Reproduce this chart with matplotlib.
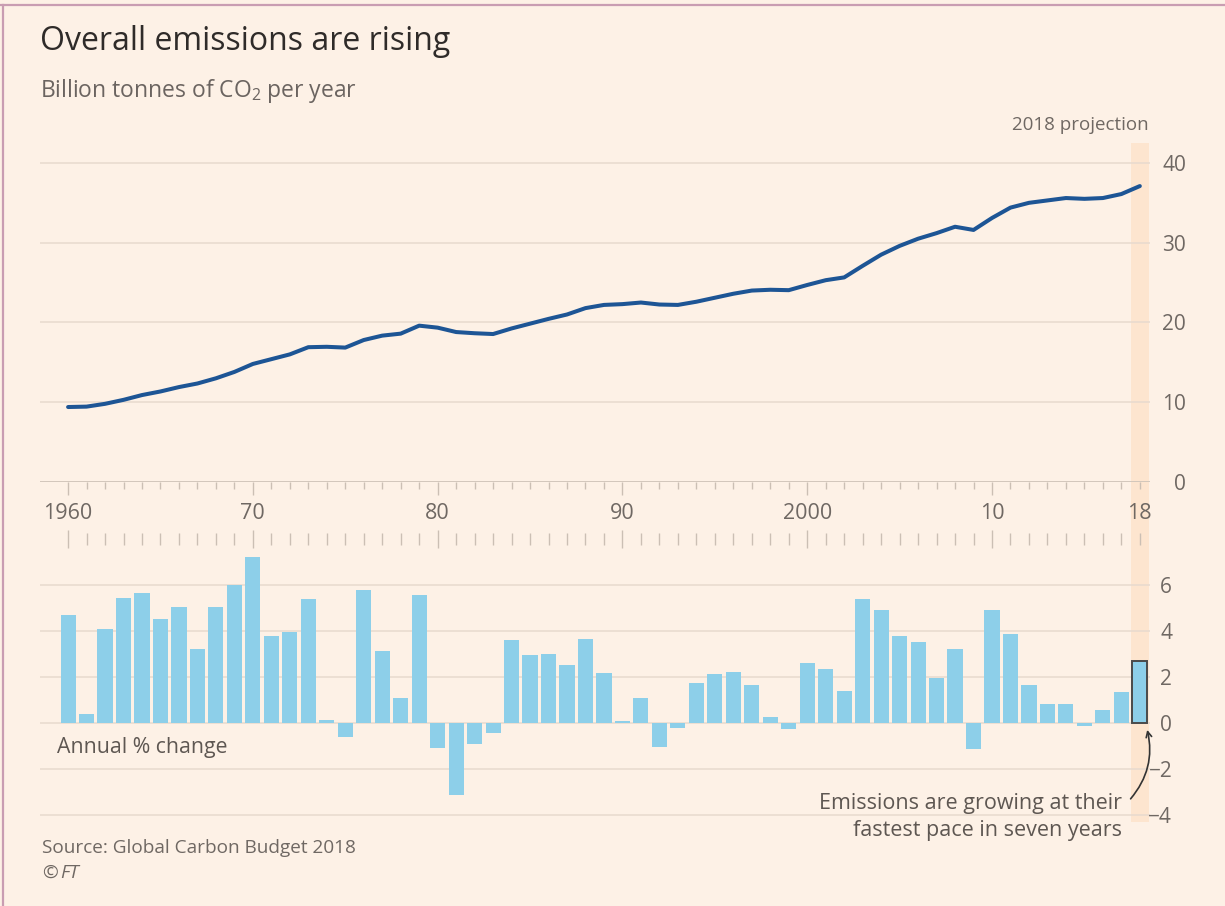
import numpy as np
import matplotlib
matplotlib.use('Agg')
import matplotlib.pyplot as plt
from matplotlib.patches import Rectangle
from matplotlib.lines import Line2D
from matplotlib.transforms import blended_transform_factory

plt.rcParams['font.family'] = ['Open Sans', 'DejaVu Sans']
plt.rcParams['mathtext.fontset'] = 'custom'
plt.rcParams['mathtext.rm'] = 'Open Sans'

# data (Global Carbon Budget 2018)
years = list(range(1960, 2019))
emissions = [9.4, 9.45, 9.8, 10.3, 10.9, 11.35, 11.9, 12.35, 13.0, 13.8,
             14.8, 15.4, 16.0, 16.9, 16.95, 16.85, 17.8, 18.35, 18.6, 19.6,
             19.35, 18.8, 18.65, 18.55, 19.25, 19.85, 20.45, 21.0, 21.8, 22.2,
             22.3, 22.5, 22.25, 22.2, 22.6, 23.1, 23.6, 24.0, 24.1, 24.05,
             24.7, 25.3, 25.65, 27.1, 28.5, 29.6, 30.5, 31.2, 32.0, 31.6,
             33.1, 34.4, 35.0, 35.3, 35.6, 35.5, 35.6, 36.1, 37.1]
annual_change = [4.68, 0.41, 4.07, 5.45, 5.67, 4.5, 5.03, 3.2, 5.06, 5.99,
                 7.22, 3.78, 3.97, 5.41, 0.15, -0.61, 5.78, 3.12, 1.09, 5.57,
                 -1.08, -3.12, -0.9, -0.44, 3.6, 2.97, 3.02, 2.53, 3.66, 2.18,
                 0.07, 1.09, -1.05, -0.22, 1.72, 2.11, 2.21, 1.66, 0.26, -0.26,
                 2.59, 2.35, 1.38, 5.38, 4.9, 3.78, 3.52, 1.96, 3.2, -1.13,
                 4.9, 3.88, 1.63, 0.83, 0.83, -0.15, 0.55, 1.34, 2.69]
tick_years = [1960, 1970, 1980, 1990, 2000, 2010, 2018]
tick_names = ['1960', '70', '80', '90', '2000', '10', '18']
top_yticks = [0, 10, 20, 30, 40]
bottom_yticks = [-4, -2, 0, 2, 4, 6]

BG = '#fdf1e6'
GRID = '#e8dace'
TXT = '#6f6863'
LINE = '#1d5595'
BAR = '#8dcfe9'

W, H = 1225, 906
fig = plt.figure(figsize=(W / 100, H / 100), dpi=100, facecolor=BG)


def px_box(left, top, right, bottom):
    return [left / W, 1 - bottom / H, (right - left) / W, (bottom - top) / H]


ax1 = fig.add_axes(px_box(40, 143, 1150, 482))
ax2 = fig.add_axes(px_box(40, 539, 1150, 817))
xlim = (1958.48, 2018.55)

for ax in (ax1, ax2):
    ax.set_facecolor('none')
    ax.set_xlim(*xlim)
    for s in ax.spines.values():
        s.set_visible(False)
    ax.yaxis.tick_right()
    ax.tick_params(axis='y', length=0, labelsize=15, labelcolor=TXT)
    ax.grid(axis='y', color=GRID, linewidth=1.1)
    ax.set_axisbelow(True)

# projection band across both panels, behind the axes
trans = blended_transform_factory(ax1.transData, fig.transFigure)
fig.patches.append(Rectangle((2017.5, 1 - 822 / H), 1.0, (822 - 143) / H, transform=trans,
                             facecolor='#fde5cf', edgecolor='none', zorder=-5))

# top panel: emissions line
ax1.plot(years, emissions, color=LINE, linewidth=2.9, solid_capstyle='round', zorder=3)
ax1.set_ylim(0, 42.5)
ax1.set_yticks(top_yticks)
for lab in ax1.get_yticklabels():
    lab.set_horizontalalignment('right')
ax1.tick_params(axis='y', pad=26)
ax1.axhline(0, color='#cfc3b8', linewidth=1.2, zorder=2)
ax1.set_xticks(tick_years, tick_names)
ax1.set_xticks(years, minor=True)
ax1.tick_params(axis='x', which='major', length=9, width=1, color='#cbbfb4',
                labelsize=15.5, labelcolor=TXT, pad=6)
ax1.tick_params(axis='x', which='minor', length=5, width=1, color='#cbbfb4')
ax1.xaxis.get_major_ticks()[-1].tick1line.set_markersize(5)
ax1.annotate('2018 projection', xy=(2018.45, 1.053), xycoords=('data', 'axes fraction'),
             ha='right', va='center', fontsize=13.5, color=TXT)

# bottom panel: annual change bars
ax2.bar(years, annual_change, width=0.82, color=BAR, zorder=3)
ax2.bar(years[-1:], annual_change[-1:], width=0.82, color=BAR, edgecolor='#4a4a4a',
        linewidth=1.4, zorder=4)
ax2.set_ylim(-4.09, 8.0)
ax2.set_yticks(bottom_yticks)
for lab in ax2.get_yticklabels():
    lab.set_horizontalalignment('right')
ax2.tick_params(axis='y', pad=16)
ax2.xaxis.tick_top()
ax2.set_xticks([t for t in tick_years if t != 2018], [])
ax2.set_xticks(years, minor=True)
ax2.tick_params(axis='x', which='major', direction='inout', length=13, width=1, color='#cbbfb4')
ax2.tick_params(axis='x', which='minor', direction='inout', length=8, width=1, color='#cbbfb4')
ax2.text(1959.4, -1.05, 'Annual % change', ha='left', va='center', fontsize=15.3, color='#5e5752')
ax2.text(2017.05, -3.05, 'Emissions are growing at their\nfastest pace in seven years',
         ha='right', va='top', fontsize=15.5, color='#5e5752', linespacing=1.35)
ax2.annotate('', xy=(2018.4, -0.3), xytext=(2017.5, -3.3),
             arrowprops=dict(arrowstyle='->', color='#333333', linewidth=1.2,
                             connectionstyle='arc3,rad=0.25',
                             shrinkA=0, shrinkB=0),
             annotation_clip=False)

# titles and footer
fig.text(40 / W, 1 - 41 / H, 'Overall emissions are rising', ha='left', va='center',
         fontsize=23, color='#2f2b29')
fig.text(40 / W, 1 - 91 / H, 'Billion tonnes of CO$_2$ per year', ha='left', va='center',
         fontsize=16.5, color='#6b6460')
fig.text(42 / W, 1 - 848 / H, 'Source: Global Carbon Budget 2018', ha='left', va='center',
         fontsize=13.7, color=TXT)
fig.text(42 / W, 1 - 873 / H, '©', ha='left', va='center', fontsize=13.7, color=TXT)
fig.text(60 / W, 1 - 873 / H, 'FT', ha='left', va='center', fontsize=13.7, color=TXT,
         style='italic')

# thin frame on the top and left edges
fig.lines.append(Line2D([0, 1], [1 - 5 / H, 1 - 5 / H], transform=fig.transFigure,
                        color='#c99db2', linewidth=1.6))
fig.lines.append(Line2D([3 / W, 3 / W], [0, 1 - 5 / H], transform=fig.transFigure,
                        color='#c99db2', linewidth=1.6))

fig.savefig('out.png', dpi=100, facecolor=BG)
